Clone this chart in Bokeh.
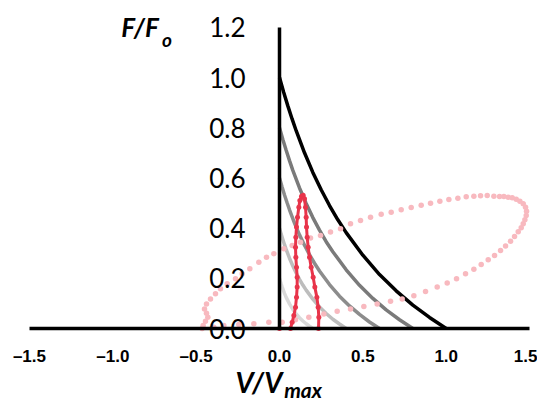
from bokeh.plotting import figure
from bokeh.models import Range1d, FixedTicker, Label, LinearAxis
from bokeh.embed import file_html
from bokeh.resources import INLINE

# ---- data ----
x_ticks = [-1.5, -1.0, -0.5, 0.0, 0.5, 1.0, 1.5]
x_tick_labels = ["\u20131.5", "\u20131.0", "\u20130.5", "0.0", "0.5", "1.0", "1.5"]
y_ticks = [0.0, 0.2, 0.4, 0.6, 0.8, 1.0, 1.2]
y_tick_labels = ["0.0", "0.2", "0.4", "0.6", "0.8", "1.0", "1.2"]

# force-velocity curves (F0 = 1.0, 0.8, 0.6, 0.4, 0.2)
v_10 = [0, .025, .05, .075, .10, .15, .20, .25, .30, .35, .40, .50, .60, .70, .80, .90, 1.0]
f_10 = [1.0, .941, .887, .836, .788, .700, .622, .553, .490, .433, .382, .292, .215, .150, .093, .044, 0.0]
v_08 = [0, .02, .04, .06, .08, .12, .16, .20, .24, .28, .32, .40, .48, .56, .64, .72, .80]
f_08 = [.80, .753, .710, .669, .630, .560, .498, .442, .392, .346, .306, .234, .172, .120, .074, .035, 0.0]
v_06 = [0, .015, .03, .045, .06, .09, .12, .15, .18, .21, .24, .30, .36, .42, .48, .54, .60]
f_06 = [.60, .565, .532, .502, .473, .420, .373, .332, .294, .260, .229, .175, .129, .090, .056, .026, 0.0]
v_04 = [0, .01, .02, .03, .04, .06, .08, .10, .12, .14, .16, .20, .24, .28, .32, .36, .40]
f_04 = [.40, .376, .355, .334, .315, .280, .249, .221, .196, .173, .153, .117, .086, .060, .037, .018, 0.0]
v_02 = [0, .005, .01, .015, .02, .03, .04, .05, .06, .07, .08, .10, .12, .14, .16, .18, .20]
f_02 = [.20, .188, .177, .167, .158, .140, .124, .111, .098, .087, .076, .058, .043, .030, .019, .009, 0.0]

# red loop (dense dots)
red_v = [0.066, 0.076, 0.086, 0.096, 0.102, 0.106, 0.106, 0.102, 0.098, 0.096, 0.098, 0.102,
         0.108, 0.116, 0.122, 0.132, 0.142, 0.150, 0.156, 0.160, 0.162, 0.166, 0.172, 0.180,
         0.190, 0.202, 0.212, 0.224, 0.232, 0.236, 0.234]
red_f = [0.0, 0.025, 0.052, 0.085, 0.125, 0.165, 0.204, 0.244, 0.284, 0.324, 0.364, 0.404,
         0.443, 0.483, 0.510, 0.527, 0.531, 0.517, 0.483, 0.443, 0.404, 0.364, 0.324, 0.284,
         0.244, 0.204, 0.165, 0.125, 0.085, 0.045, 0.0]
red_origin_v = [0.0]
red_origin_f = [0.0]

# pink loop (sparse dots)
pink_v = [0.016, 0.096, 0.176, 0.266, 0.346, 0.426, 0.506, 0.586, 0.666, 0.736, 0.806, 0.876, 0.946,
          1.006, 1.062, 1.116, 1.166, 1.210, 1.252, 1.290, 1.326, 1.356, 1.386, 1.410, 1.432, 1.450,
          1.462, 1.472, 1.480, 1.482, 1.476, 1.462, 1.442, 1.420, 1.396, 1.372, 1.346, 1.320, 1.286,
          1.246, 1.206, 1.166, 1.120, 1.070, 1.016, 0.962, 0.906, 0.850, 0.790, 0.730, 0.670, 0.610,
          0.546, 0.486, 0.426, 0.366, 0.306, 0.246, 0.186, 0.126, 0.076, 0.026, -0.034, -0.078,
          -0.124, -0.178, -0.224, -0.264, -0.314, -0.354, -0.384, -0.414, -0.438, -0.450, -0.438,
          -0.430, -0.444, -0.458, -0.464, -0.394, -0.334, -0.244, -0.154, -0.064]
pink_f = [0.025, 0.035, 0.045, 0.058, 0.069, 0.078, 0.088, 0.098, 0.109, 0.118, 0.131, 0.147, 0.165,
          0.181, 0.198, 0.218, 0.236, 0.255, 0.274, 0.291, 0.311, 0.329, 0.348, 0.367, 0.385, 0.401,
          0.417, 0.433, 0.450, 0.467, 0.483, 0.497, 0.507, 0.515, 0.521, 0.523, 0.526, 0.526, 0.527,
          0.530, 0.529, 0.527, 0.525, 0.519, 0.514, 0.507, 0.499, 0.491, 0.482, 0.473, 0.463, 0.455,
          0.443, 0.430, 0.417, 0.397, 0.384, 0.371, 0.361, 0.344, 0.331, 0.318, 0.298, 0.284,
          0.264, 0.238, 0.218, 0.198, 0.178, 0.158, 0.138, 0.118, 0.098, 0.078, 0.061,
          0.045, 0.029, 0.012, 0.0, 0.005, 0.012, 0.016, 0.019, 0.025]

# ---- figure (frame covers the whole canvas; axes are bounded) ----
p = figure(width=537, height=401, output_backend="svg", toolbar_location=None,
           x_range=Range1d(-1.6737, 1.5477), y_range=Range1d(-0.2908, 1.3068),
           min_border=0, x_axis_location=None, y_axis_location=None)
p.outline_line_color = None
p.grid.visible = False
p.background_fill_color = "white"
p.border_fill_color = "white"

xax = LinearAxis(fixed_location=0, bounds=(-1.5, 1.5), ticker=FixedTicker(ticks=x_ticks),
                 major_label_overrides=dict(zip(x_ticks, x_tick_labels)))
xax.axis_line_width = 3.5
xax.axis_line_color = "black"
xax.major_tick_line_color = None
xax.minor_tick_line_color = None
xax.major_label_standoff = 12
xax.major_label_text_font = "Liberation Sans"
xax.major_label_text_font_style = "bold"
xax.major_label_text_font_size = "17px"
xax.major_label_text_color = "black"
p.add_layout(xax, "below")

yax = LinearAxis(fixed_location=0, bounds=(0, 1.2), ticker=FixedTicker(ticks=y_ticks),
                 major_label_overrides=dict(zip(y_ticks, y_tick_labels)))
yax.axis_line_width = 3.5
yax.axis_line_color = "black"
yax.major_tick_line_color = None
yax.minor_tick_line_color = None
yax.major_label_standoff = 28
yax.major_label_text_font = "Lato"
yax.major_label_text_font_size = "26px"
yax.major_label_text_color = "black"
p.add_layout(yax, "left")

p.line(v_02, f_02, line_color="#d9d9d9", line_width=3.5)
p.line(v_04, f_04, line_color="#bdbdbd", line_width=3.5)
p.line(v_06, f_06, line_color="#8c8c8c", line_width=3.5)
p.line(v_08, f_08, line_color="#7a7a7a", line_width=3.5)
p.line(v_10, f_10, line_color="black", line_width=3.5)

p.scatter(pink_v, pink_f, size=5.5, fill_color="#f8b9bf", line_color=None)
p.line(red_v, red_f, line_color="#e8344a", line_width=3)
p.scatter(red_v, red_f, size=5, fill_color="#e8344a", line_color=None)
p.scatter(red_origin_v, red_origin_f, size=5, fill_color="#e8344a", line_color=None)

title_font = "Lato"
p.add_layout(Label(x=-0.95, y=1.201, text="F/F", text_font=title_font,
                   text_font_style="bold italic", text_font_size="26px",
                   text_baseline="middle", text_color="black"))
p.add_layout(Label(x=-0.705, y=1.15, text="o", text_font=title_font,
                   text_font_style="bold italic", text_font_size="19px",
                   text_baseline="middle", text_color="black"))
p.add_layout(Label(x=-0.264, y=-0.213, text="V/V", text_font=title_font,
                   text_font_style="bold italic", text_font_size="28px",
                   text_baseline="middle", text_color="black"))
p.add_layout(Label(x=0.028, y=-0.243, text="max", text_font=title_font,
                   text_font_style="bold italic", text_font_size="21px",
                   text_baseline="middle", text_color="black"))

open("out.html", "w").write(file_html(p, INLINE))
